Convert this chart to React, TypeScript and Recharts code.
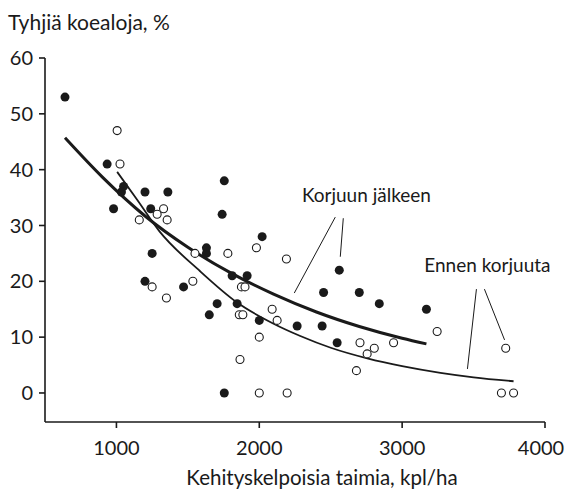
import React from 'react';
import {
  ComposedChart,
  XAxis,
  YAxis,
  Scatter,
  Line,
  ReferenceLine,
  ReferenceDot,
} from 'recharts';

const titleText = 'Tyhjiä koealoja, %';
const xLabelText = 'Kehityskelpoisia taimia, kpl/ha';
const afterLabel = 'Korjuun jälkeen';
const beforeLabel = 'Ennen korjuuta';

const xTicks = [1000, 2000, 3000, 4000];
const yTicks = [0, 10, 20, 30, 40, 50, 60];

// Filled circles: after harvest
const afterX = [640, 935, 980, 1050, 1035, 1200, 1360, 1240, 1755, 1740, 2020, 1630, 1630, 1200, 1250, 1470, 1650, 1705, 1810, 1915, 1845, 2000, 1755, 2265, 2560, 2450, 2700, 2840, 3170, 2440, 2545];
const afterY = [53, 41, 33, 37, 36, 36, 36, 33, 38, 32, 28, 26, 25, 20, 25, 19, 14, 16, 21, 21, 16, 13, 0, 12, 22, 18, 18, 16, 15, 12, 9];

// Open circles: before harvest
const beforeX = [1005, 1025, 1330, 1285, 1355, 1160, 1980, 1550, 1780, 2190, 1535, 1875, 1900, 1250, 1350, 1860, 1885, 2090, 2125, 2000, 1865, 2000, 2195, 2705, 2805, 2755, 2940, 2680, 3245, 3725, 3695, 3780];
const beforeY = [47, 41, 33, 32, 31, 31, 26, 25, 25, 24, 20, 19, 19, 19, 17, 14, 14, 15, 13, 10, 6, 0, 0, 9, 8, 7, 9, 4, 11, 8, 0, 0];

// Fitted curves
const afterCurveX = [640, 900, 1200, 1500, 1800, 2100, 2400, 2700, 3000, 3170];
const afterCurveY = [45.7, 38.7, 31.7, 26.1, 21.5, 17.7, 14.5, 11.9, 9.8, 8.8];
const beforeCurveX = [1005, 1145, 1300, 1586, 1845, 2100, 2287, 2500, 2756, 3000, 3268, 3500, 3780];
const beforeCurveY = [39.6, 34.6, 29, 21.8, 16.2, 12.4, 10.2, 8.1, 6.2, 4.8, 3.6, 2.8, 2.1];

const afterPts = afterX.map((x, i) => ({ x, y: afterY[i] }));
const beforePts = beforeX.map((x, i) => ({ x, y: beforeY[i] }));
const afterCurve = afterCurveX.map((x, i) => ({ x, y: afterCurveY[i] }));
const beforeCurve = beforeCurveX.map((x, i) => ({ x, y: beforeCurveY[i] }));

const INK = '#1a1a1a';

const FilledDot = (p: any) => <circle cx={p.cx} cy={p.cy} r={4.5} fill={INK} />;
const OpenDot = (p: any) => (
  <circle cx={p.cx} cy={p.cy} r={4} fill="#fff" stroke={INK} strokeWidth={1.1} />
);

const XTick = (p: any) => {
  const v = p.payload?.value;
  const shift = v === xTicks[xTicks.length - 1] ? -4 : 0;
  return (
    <text x={p.x + shift} y={p.y} dy="0.71em" textAnchor="middle" fill={INK} fontSize={20}>
      {v}
    </text>
  );
};

const XLabel = (p: any) => {
  const vb = p.viewBox || {};
  return (
    <text x={vb.x + vb.width / 2 + 27} y={vb.y + vb.height - 8} textAnchor="middle" fill={INK} fontSize={20.5}>
      {xLabelText}
    </text>
  );
};

export default function App() {
  return (
    <div style={{ position: 'relative', width: 565, height: 493, fontFamily: 'Lato', color: INK }}>
      <style>{`body{margin:0}`}</style>
      <div style={{ position: 'absolute', left: 8, top: 11, fontSize: 21, lineHeight: '21px' }}>
        {titleText}
      </div>
      <ComposedChart
        width={565}
        height={493}
        margin={{ top: 58, right: 20, bottom: 0, left: 0 }}
        style={{ fontFamily: 'Lato' }}
      >
        <XAxis
          type="number"
          dataKey="x"
          domain={[500, 4000]}
          ticks={xTicks}
          height={71}
          tickSize={6}
          tickMargin={13}
          stroke={INK}
          strokeWidth={1.6}
          tick={<XTick />}
          allowDataOverflow
          label={<XLabel />}
        />
        <YAxis
          type="number"
          dataKey="y"
          domain={[-5.2, 60]}
          ticks={yTicks}
          width={45}
          tickSize={6}
          tickMargin={6}
          stroke={INK}
          strokeWidth={1.6}
          tick={{ fill: INK, fontSize: 20 }}
          allowDataOverflow
        />
        <Line
          data={beforeCurve}
          dataKey="y"
          type="monotone"
          stroke={INK}
          strokeWidth={1.8}
          dot={false}
          activeDot={false}
          isAnimationActive={false}
        />
        <Line
          data={afterCurve}
          dataKey="y"
          type="monotone"
          stroke={INK}
          strokeWidth={3}
          dot={false}
          activeDot={false}
          isAnimationActive={false}
        />
        <Scatter data={afterPts} dataKey="y" shape={FilledDot} isAnimationActive={false} />
        <Scatter data={beforePts} dataKey="y" shape={OpenDot} isAnimationActive={false} />
        <ReferenceLine segment={[{ x: 2532, y: 31.5 }, { x: 2245, y: 17.9 }]} stroke={INK} strokeWidth={1} />
        <ReferenceLine segment={[{ x: 2588, y: 31.3 }, { x: 2567, y: 24.4 }]} stroke={INK} strokeWidth={1} />
        <ReferenceLine segment={[{ x: 3520, y: 18.6 }, { x: 3457, y: 4.3 }]} stroke={INK} strokeWidth={1} />
        <ReferenceLine segment={[{ x: 3576, y: 18.6 }, { x: 3717, y: 9.5 }]} stroke={INK} strokeWidth={1} />
        <ReferenceDot
          x={2750}
          y={35.5}
          r={0}
          stroke="none"
          label={{ value: afterLabel, position: 'center', fill: INK, fontSize: 19 }}
        />
        <ReferenceDot
          x={3597}
          y={22.9}
          r={0}
          stroke="none"
          label={{ value: beforeLabel, position: 'center', fill: INK, fontSize: 19 }}
        />
      </ComposedChart>
    </div>
  );
}
